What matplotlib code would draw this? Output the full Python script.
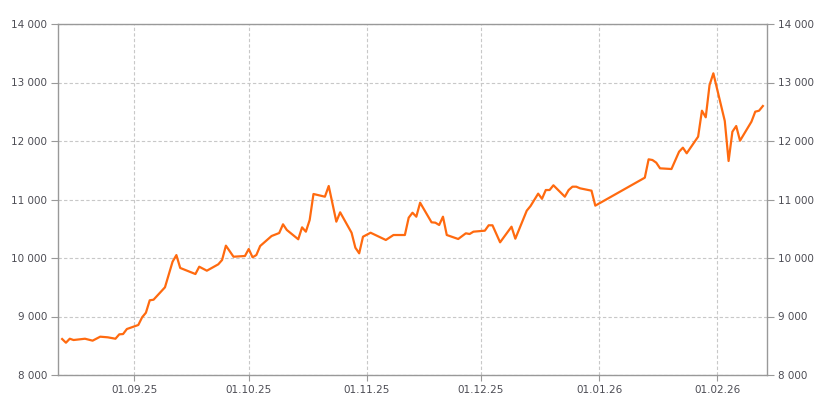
import numpy as np
import pandas as pd
from matplotlib import pyplot as plt
import matplotlib.dates as mdates
from matplotlib.ticker import FuncFormatter

dates = [
    '2025-08-13', '2025-08-14', '2025-08-15', '2025-08-16', '2025-08-19', '2025-08-21',
    '2025-08-23', '2025-08-25', '2025-08-27', '2025-08-28', '2025-08-29', '2025-08-30',
    '2025-09-02', '2025-09-03', '2025-09-04', '2025-09-05', '2025-09-06', '2025-09-09',
    '2025-09-11', '2025-09-12', '2025-09-13', '2025-09-17', '2025-09-18', '2025-09-20',
    '2025-09-23', '2025-09-24', '2025-09-25', '2025-09-27', '2025-09-30', '2025-10-01',
    '2025-10-02', '2025-10-03', '2025-10-04', '2025-10-07', '2025-10-09', '2025-10-10',
    '2025-10-11', '2025-10-14', '2025-10-15', '2025-10-16', '2025-10-17', '2025-10-18',
    '2025-10-21', '2025-10-22', '2025-10-24', '2025-10-25', '2025-10-28', '2025-10-29',
    '2025-10-30', '2025-10-31', '2025-11-02', '2025-11-06', '2025-11-08', '2025-11-11',
    '2025-11-12', '2025-11-13', '2025-11-14', '2025-11-15', '2025-11-18', '2025-11-19',
    '2025-11-20', '2025-11-21', '2025-11-22', '2025-11-25', '2025-11-27', '2025-11-28',
    '2025-11-29', '2025-12-02', '2025-12-03', '2025-12-04', '2025-12-06', '2025-12-09',
    '2025-12-10', '2025-12-13', '2025-12-14', '2025-12-16', '2025-12-17', '2025-12-18',
    '2025-12-19', '2025-12-20', '2025-12-23', '2025-12-24', '2025-12-25', '2025-12-26',
    '2025-12-27', '2025-12-30', '2025-12-31', '2026-01-13', '2026-01-14', '2026-01-15',
    '2026-01-16', '2026-01-17', '2026-01-20', '2026-01-22', '2026-01-23', '2026-01-24',
    '2026-01-27', '2026-01-28', '2026-01-29', '2026-01-30', '2026-01-31', '2026-02-03',
    '2026-02-04', '2026-02-05', '2026-02-06', '2026-02-07', '2026-02-10', '2026-02-11',
    '2026-02-12', '2026-02-13',
]
values = [
    8615, 8552, 8620, 8598, 8620, 8587,
    8655, 8644, 8620, 8695, 8700, 8786,
    8855, 8986, 9065, 9277, 9287, 9499,
    9937, 10050, 9830, 9726, 9851, 9783,
    9892, 9966, 10211, 10022, 10034, 10154,
    10012, 10051, 10205, 10376, 10427, 10576,
    10479, 10320, 10524, 10450, 10650, 11094,
    11048, 11231, 10621, 10781, 10432, 10176,
    10080, 10364, 10432, 10308, 10393, 10393,
    10689, 10774, 10706, 10945, 10610, 10604,
    10564, 10706, 10393, 10325, 10422, 10410,
    10450, 10467, 10559, 10559, 10268, 10535,
    10330, 10809, 10889, 11100, 11012, 11162,
    11162, 11243, 11048, 11162, 11219, 11219,
    11191, 11151, 10895, 11373, 11687, 11675,
    11630, 11533, 11521, 11817, 11886, 11790,
    12074, 12518, 12405, 12957, 13157, 12342,
    11658, 12159, 12256, 12005, 12330, 12501,
    12518, 12598,
]
x_ticks = ['2025-09-01', '2025-10-01', '2025-11-01', '2025-12-01', '2026-01-01', '2026-02-01']
y_ticks = [8000, 9000, 10000, 11000, 12000, 13000, 14000]

dates = pd.to_datetime(dates)
text_color = '#4d4d55'
axis_color = '#999999'

fig = plt.figure(figsize=(8.25, 4), dpi=100)
ax = fig.add_axes([0.0707, 0.0625, 0.8586, 0.8775])

ax.plot(dates, values, color='#ff6a0f', linewidth=1.6, zorder=3)

ax.set_xlim(pd.Timestamp('2025-08-12'), pd.Timestamp('2026-02-14'))
ax.set_ylim(8000, 14000)
ax.set_xticks(pd.to_datetime(x_ticks))
ax.xaxis.set_major_formatter(mdates.DateFormatter('%d.%m.%y'))
ax.set_yticks(y_ticks)
ax.yaxis.set_major_formatter(FuncFormatter(lambda v, p: f'{int(v):,}'.replace(',', ' ')))

ax.grid(True, color='#c8c8c8', linestyle=(0, (3, 2)), linewidth=0.8)
for s in ax.spines.values():
    s.set_color(axis_color)
    s.set_linewidth(1.0)

ax.tick_params(axis='y', which='both', left=True, right=True, labelleft=True, labelright=True,
               length=5, color=axis_color, labelsize=7.5, labelcolor=text_color, pad=3)
ax.tick_params(axis='x', length=4, color=axis_color, labelsize=7.5, labelcolor=text_color, pad=3)

fig.savefig('out.png', dpi=100)
